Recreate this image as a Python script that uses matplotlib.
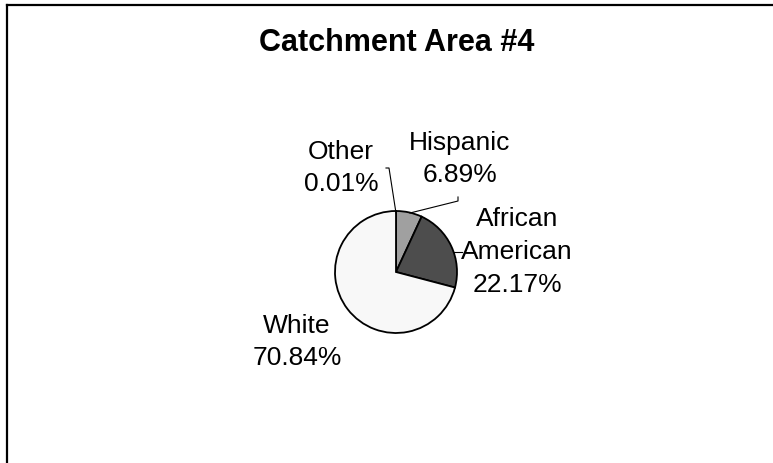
import matplotlib
matplotlib.use('Agg')
import matplotlib.pyplot as plt
from matplotlib.lines import Line2D

plt.rcParams['font.family'] = ['Liberation Sans', 'DejaVu Sans']

categories = ['Other', 'Hispanic', 'African\nAmerican', 'White']
shares = [0.01, 6.89, 22.17, 70.84]
slice_colors = ['#d0d0d0', '#a0a0a0', '#4d4d4d', '#f8f8f8']

W, H = 773, 463
fig = plt.figure(figsize=(W / 100, H / 100), dpi=100)
ax = fig.add_axes([0, 0, 1, 1])

# chart frame (only left and top edges are visible in the crop)
fig.add_artist(Line2D([7.5 / W, 7.5 / W], [0, 1 - 5 / H], transform=fig.transFigure,
                      color='black', linewidth=1.6))
fig.add_artist(Line2D([7.5 / W, 1], [1 - 5 / H, 1 - 5 / H], transform=fig.transFigure,
                      color='black', linewidth=1.6))

cx, cy, r = 396, H - 272, 61
ax.pie(shares, colors=slice_colors, startangle=90, counterclock=False,
       center=(cx, cy), radius=r, frame=True,
       wedgeprops={'edgecolor': 'black', 'linewidth': 1.3})
ax.set_xlim(0, W)
ax.set_ylim(0, H)
ax.set_aspect('equal')
ax.axis('off')

ax.text(397, H - 43, 'Catchment Area #4', ha='center', va='center',
        fontsize=22, fontweight='bold')

lbl = [f'{c}\n{v:.2f}%' for c, v in zip(categories, shares)]
fs = 19
ls = 1.45
ax.text(341, H - 168, lbl[0], ha='center', va='center', fontsize=fs, linespacing=ls)
ax.text(460, H - 159, lbl[1], ha='center', va='center', fontsize=fs, linespacing=ls)
ax.text(517, H - 252, lbl[2], ha='center', va='center', fontsize=fs, linespacing=ls)
ax.text(297, H - 342, lbl[3], ha='center', va='center', fontsize=fs, linespacing=ls)

# leader lines
ax.plot([396, 389, 386], [H - 213, H - 168, H - 168], color='black', linewidth=0.8)
ax.plot([410, 458, 458], [H - 213, H - 201, H - 197], color='black', linewidth=0.8)
ax.plot([453, 462], [H - 252, H - 252], color='black', linewidth=0.8)

fig.savefig('out.png', dpi=100)
